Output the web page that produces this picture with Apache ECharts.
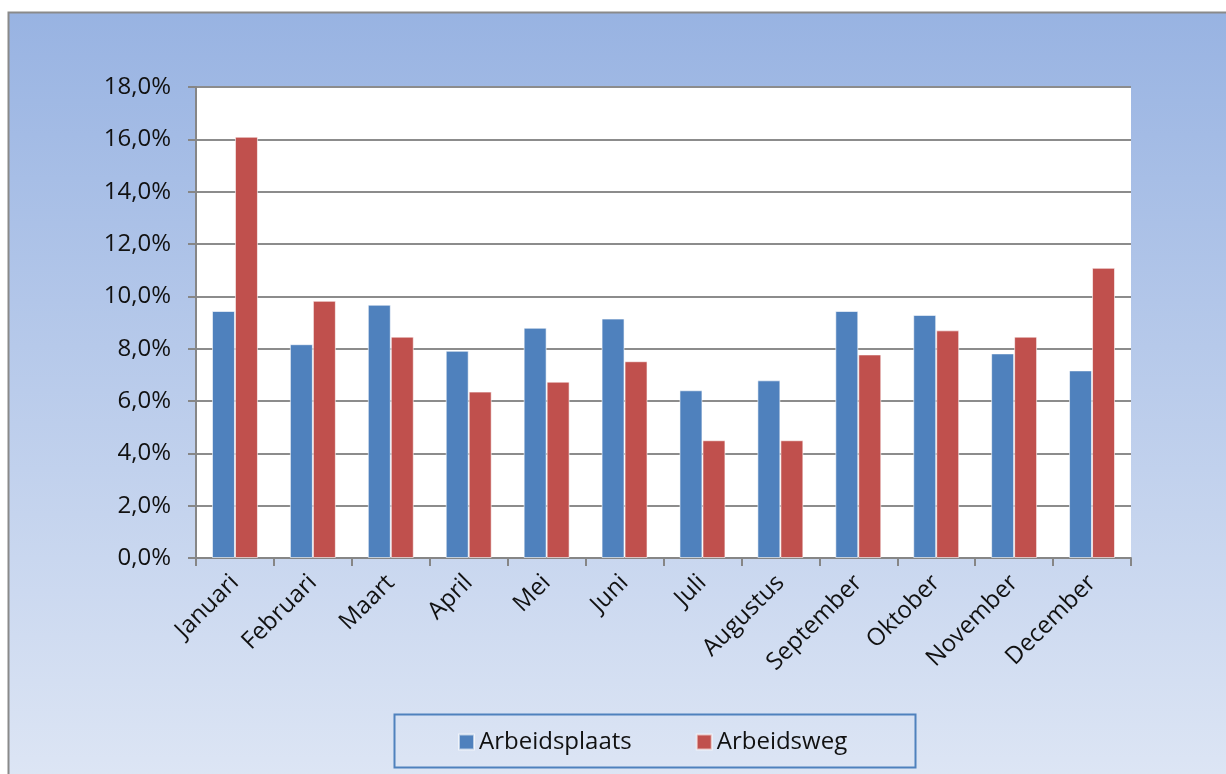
<!DOCTYPE html>
<html><head><meta charset="utf-8">
<script src="https://cdn.jsdelivr.net/npm/echarts@6/dist/echarts.min.js"></script>
<style>html,body{margin:0;padding:0;background:#fff}#c{width:1226px;height:774px}</style>
</head><body><div id="c"></div>
<script>
const months = ['Januari','Februari','Maart','April','Mei','Juni','Juli','Augustus','September','Oktober','November','December'];
const arbeidsplaats = [9.44, 8.17, 9.68, 7.92, 8.80, 9.15, 6.41, 6.79, 9.44, 9.29, 7.82, 7.17];
const arbeidsweg = [16.1, 9.83, 8.46, 6.36, 6.74, 7.52, 4.50, 4.50, 7.78, 8.70, 8.46, 11.09];
const seriesNames = ['Arbeidsplaats', 'Arbeidsweg'];
const FONT = '"Open Sans", sans-serif';
const chart = echarts.init(document.getElementById('c'), null, {renderer: 'canvas'});
chart.setOption({
  animation: false,
  backgroundColor: '#ffffff',
  graphic: [
    {type: 'rect', z: -10, shape: {x: 8.5, y: 12.5, width: 1240, height: 790},
     style: {fill: new echarts.graphic.LinearGradient(0, 0, 0, 1, [
       {offset: 0, color: '#98b3e2'}, {offset: 1, color: '#dfe7f5'}]),
       stroke: '#8a8a8a', lineWidth: 2}},
    {type: 'rect', z: -5, shape: {x: 196, y: 87, width: 935, height: 471},
     style: {fill: '#ffffff'}},
    {type: 'rect', z: 1, shape: {x: 394.5, y: 714.5, width: 521, height: 53},
     style: {fill: 'transparent', stroke: '#4f81bd', lineWidth: 2}}
  ],
  color: ['#4f81bd', '#c0504d'],
  grid: {left: 196, top: 87, right: 95, bottom: 216, containLabel: false},
  legend: {
    data: seriesNames, top: 730, left: 458, itemGap: 64, padding: 0,
    itemWidth: 15, itemHeight: 15, icon: 'rect',
    textStyle: {fontFamily: FONT, fontSize: 24, color: '#111', padding: [0, 0, 0, 0]}
  },
  xAxis: {
    type: 'category', data: months, boundaryGap: true,
    axisLine: {lineStyle: {color: '#868686', width: 2}},
    axisTick: {show: true, length: 8, lineStyle: {color: '#868686', width: 2}},
    axisLabel: {rotate: 45, fontFamily: FONT, fontSize: 24, color: '#111', margin: 21, interval: 0}
  },
  yAxis: {
    type: 'value', min: 0, max: 18, interval: 2,
    axisLine: {show: true, lineStyle: {color: '#868686', width: 2}},
    axisTick: {show: true, length: 8, lineStyle: {color: '#868686', width: 2}},
    splitLine: {lineStyle: {color: '#8c8c8c', width: 2}},
    axisLabel: {fontFamily: FONT, fontSize: 24, color: '#111', margin: 25,
      formatter: v => v.toFixed(1).replace('.', ',') + '%'}
  },
  series: [
    {name: seriesNames[0], type: 'bar', data: arbeidsplaats, barGap: '0%', barCategoryGap: '41%',
     itemStyle: {borderColor: 'rgba(255,255,255,0.6)', borderWidth: 1}},
    {name: seriesNames[1], type: 'bar', data: arbeidsweg, barGap: '0%', barCategoryGap: '41%',
     itemStyle: {borderColor: 'rgba(255,255,255,0.6)', borderWidth: 1}}
  ]
});
</script></body></html>
